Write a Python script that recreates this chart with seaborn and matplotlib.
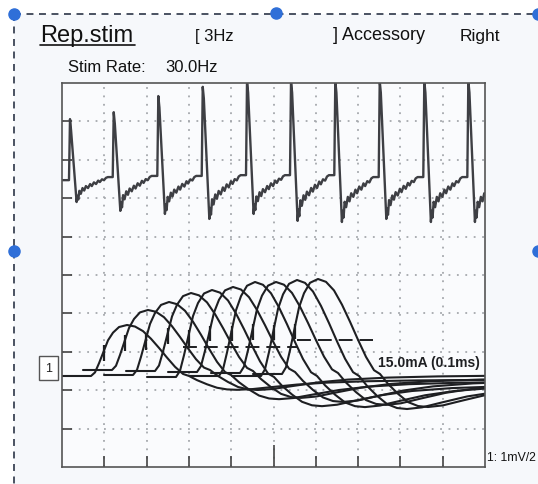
import matplotlib
matplotlib.use("Agg")
import matplotlib.pyplot as plt
from matplotlib.lines import Line2D
from matplotlib.patches import Rectangle
import seaborn as sns
import pandas as pd

# --- data (x and y in screen divisions, 10 x 10 grid) ---
# upper trace: repetitive stimulation, 10 responses at 30 Hz
spike_x = [0.165, 1.199, 2.253, 3.303, 4.350, 5.390, 6.437, 7.487, 8.541, 9.582]
spike_peak = [9.06, 9.24, 9.66, 9.90, 10.05, 10.05, 10.05, 10.05, 10.05, 10.05]
spike_trough = [6.90, 6.67, 6.59, 6.46, 6.59, 6.41, 6.38, 6.46, 6.38, 6.38]
spike_base = [7.55, 7.58, 7.58, 7.60, 7.60, 7.60, 7.55, 7.55, 7.55, 7.55]
trace_start = 7.47
# recovery after each spike (offset from spike, fraction from trough back to baseline)
recov_dx = [0.18, 0.20, 0.22, 0.245, 0.28, 0.32, 0.36, 0.40, 0.45, 0.50,
            0.54, 0.59, 0.64, 0.69, 0.73, 0.78, 0.83, 0.875, 0.92]
recov_frac = [0.0, 0.25, 0.10, 0.45, 0.33, 0.56, 0.46, 0.64, 0.56, 0.72,
              0.64, 0.79, 0.72, 0.86, 0.80, 0.91, 0.88, 0.97, 1.0]

# lower traces: 10 superimposed CMAPs, staggered
wave_peak_x = [1.537, 2.033, 2.530, 3.050, 3.546, 4.043, 4.563, 5.059, 5.556, 6.052]
wave_peak_y = [3.698, 4.089, 4.297, 4.531, 4.609, 4.688, 4.818, 4.818, 4.870, 4.896]
wave_base = [2.370, 2.526, 2.396, 2.500, 2.344, 2.474, 2.370, 2.448, 2.370, 2.422]
wave_dip = [0.36, 0.52, 0.63, 0.70, 0.76, 0.78, 0.81, 0.83, 0.86, 0.86]
# waveform shape relative to its peak (1 = peak, -1 = deepest negative phase)
shape_dx = [-1.537, -0.851, -0.757, -0.662, -0.544, -0.449, -0.331, -0.189, 0.0, 0.189,
            0.378, 0.567, 0.757, 0.946, 1.135, 1.324, 1.466, 1.655, 1.891, 2.128,
            2.364, 2.600, 2.955, 3.428, 4.019, 4.728, 5.674, 6.856, 8.511]
shape_frac = [0.0, 0.0, 0.07, 0.25, 0.5, 0.7, 0.85, 0.96, 1.0, 0.97,
              0.88, 0.73, 0.55, 0.36, 0.18, 0.04, 0.0, -0.3, -0.6, -0.85,
              -0.97, -1.0, -0.95, -0.8, -0.62, -0.48, -0.38, -0.32, -0.28]
# latency cursor (dashed) levels
cursor_x = [[2.86, 5.556], [5.556, 7.35]]
cursor_y = [3.125, 3.307]

# --- build tables ---
tx, ty = [0.0], [trace_start]
for i in range(len(spike_x)):
    s = spike_x[i]
    tx += [s, s + 0.024, s + 0.05]
    ty += [ty[-1], spike_peak[i], spike_peak[i] - 0.3]
    for dx, f in zip(recov_dx, recov_frac):
        tx.append(s + dx)
        ty.append(spike_trough[i] + f * (spike_base[i] - spike_trough[i]))
top_df = pd.DataFrame({"x": tx, "y": ty})

rows = []
for k in range(len(wave_peak_x)):
    amp = wave_peak_y[k] - wave_base[k]
    for j, (dx, f) in enumerate(zip(shape_dx, shape_frac)):
        y = wave_base[k] + (f * amp if f > 0 else f * wave_dip[k])
        rows.append({"wave": k, "i": j, "x": wave_peak_x[k] + dx, "y": y})
cmap_df = pd.DataFrame(rows)

# --- figure ---
sns.set_theme(style="white")
plt.rcParams["font.family"] = ["Liberation Sans", "DejaVu Sans"]
plt.rcParams["lines.scale_dashes"] = False

W, H = 538, 485
def fx(x): return x / W
def fy(y): return 1 - y / H

fig = plt.figure(figsize=(W / 100, H / 100), dpi=100)
fig.patch.set_facecolor("white")
bg = "#f6f8fb"
fig.add_artist(Rectangle((fx(14), 0), 1 - fx(14), fy(15), transform=fig.transFigure,
                         facecolor=bg, edgecolor="none", zorder=0))
frame_kw = dict(transform=fig.transFigure, color="#3b4455", lw=1.3, linestyle=(0, (5, 4)))
fig.add_artist(Line2D([fx(14), 1], [fy(15), fy(15)], **frame_kw))
fig.add_artist(Line2D([fx(14), fx(14)], [fy(15), 0], **frame_kw))

ax = fig.add_axes([fx(62), fy(468), fx(485) - fx(62), fy(84) - fy(468)])
ax.set_facecolor("#fafbfd")
ax.set_xlim(0, 10)
ax.set_ylim(0, 10)
ax.set_xticks(range(1, 10))
ax.set_yticks(range(1, 10))
ax.set_xticklabels([])
ax.set_yticklabels([])
ax.grid(True, color="#a5a8ad", linestyle=(0, (1.3, 4.75)), linewidth=1.3)
ax.tick_params(axis="x", direction="in", length=8, width=1.2, color="#444", bottom=True)
ax.tick_params(axis="y", direction="in", length=7, width=1.2, color="#444", left=True)
ax.xaxis.get_major_ticks()[4].tick1line.set_markersize(16)
for sp in ax.spines.values():
    sp.set_color("#555")
    sp.set_linewidth(1.2)

sns.lineplot(data=top_df, x="x", y="y", sort=False, estimator=None, ax=ax,
             color="#3e3f44", linewidth=1.7)
sns.lineplot(data=cmap_df, x="x", y="y", units="wave", estimator=None, sort=False,
             ax=ax, color="#1e1f22", linewidth=1.5, legend=False)
ax.set_xlabel("")
ax.set_ylabel("")

# onset markers on each rising edge
for k in range(len(wave_peak_x)):
    amp = wave_peak_y[k] - wave_base[k]
    mid = wave_base[k] + 0.45 * amp
    ax.vlines(wave_peak_x[k] - 0.544, mid - 0.2, mid + 0.2, color="#1e1f22", lw=1.6)
for xs, yv in zip(cursor_x, cursor_y):
    ax.plot(xs, [yv, yv], color="#1e1f22", lw=1.4, linestyle=(0, (10, 5)))

ax.text(9.88, 2.73, "15.0mA (0.1ms)", ha="right", va="center", fontsize=10,
        fontweight="bold", color="#1e1f22",
        family=["Liberation Sans Narrow", "Liberation Sans", "DejaVu Sans"])
ax.text(-0.32, 2.58, "1", ha="center", va="center", fontsize=9, color="#222",
        clip_on=False,
        bbox=dict(boxstyle="square,pad=0.5", facecolor="white", edgecolor="#555", lw=1))

# header texts
fig.text(fx(40), fy(36), "Rep.stim", fontsize=17, va="center", ha="left", color="#111")
fig.add_artist(Line2D([fx(40), fx(135)], [fy(46), fy(46)], transform=fig.transFigure,
                      color="#111", lw=1.2))
fig.text(fx(195), fy(36), "[ 3Hz", fontsize=12, va="center", ha="left", color="#111")
fig.text(fx(333), fy(36), "] Accessory", fontsize=13, va="center", ha="left", color="#111")
fig.text(fx(460), fy(36), "Right", fontsize=12.5, va="center", ha="left", color="#111")
fig.text(fx(68), fy(68), "Stim Rate:", fontsize=12, va="center", ha="left", color="#111")
fig.text(fx(165), fy(68), "30.0Hz", fontsize=12, va="center", ha="left", color="#111")
fig.text(fx(487), fy(458), "1: 1mV/2", fontsize=8.8, va="center", ha="left", color="#111")

# selection handles of the frame
handle_px = [(14, 15), (276, 14), (538, 15), (14, 252), (538, 252)]
for hx, hy in handle_px:
    fig.add_artist(Line2D([fx(hx)], [fy(hy)], transform=fig.transFigure, marker="o",
                          markersize=8, color="#2f6fd8", linestyle="none"))

fig.savefig("out.png", dpi=100, facecolor=fig.get_facecolor())
